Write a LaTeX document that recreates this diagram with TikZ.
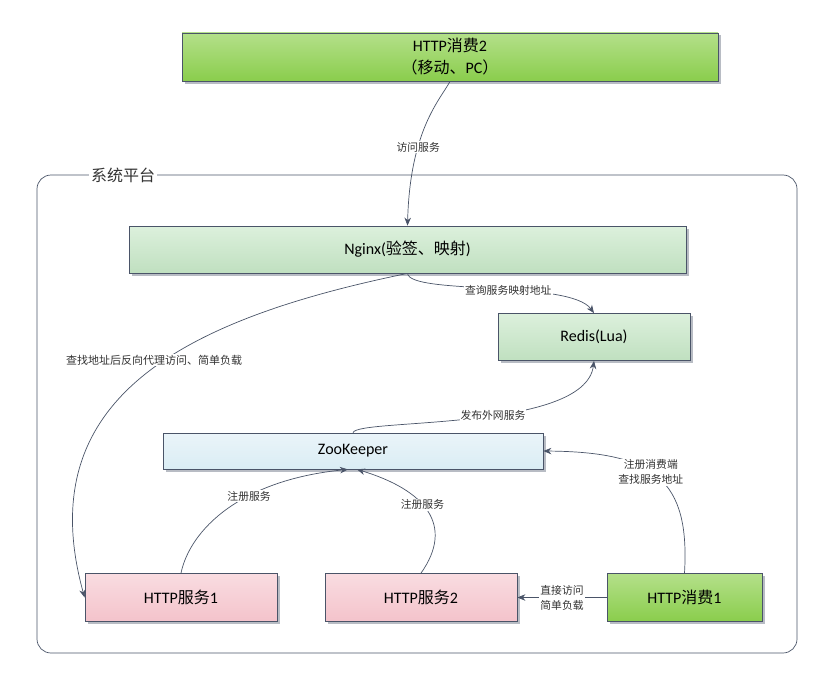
\documentclass[tikz,border=0pt]{standalone}
\usepackage{fontspec}
\setmainfont{Carlito}
\newfontfamily\cjk{Noto Sans CJK SC}
\usetikzlibrary{arrows.meta,shadows}
\definecolor{edgec}{HTML}{4A5468}
\definecolor{shadowc}{HTML}{B8BCC4}
\definecolor{BoxGreenTop}{HTML}{B4E08A}
\definecolor{BoxGreenBot}{HTML}{8ACD4C}
\definecolor{LGreenTop}{HTML}{DCF0DC}
\definecolor{LGreenBot}{HTML}{C0E0C0}
\definecolor{BlueTop}{HTML}{EAF4F9}
\definecolor{BlueBot}{HTML}{DAEDF4}
\definecolor{PinkTop}{HTML}{F9DCE1}
\definecolor{PinkBot}{HTML}{F4C3CB}
\tikzset{
  box/.style={draw=edgec, line width=0.8pt, inner sep=0pt, align=center,
    font=\fontsize{16}{22}\selectfont,
    drop shadow={shadow xshift=2.5pt, shadow yshift=-2.5pt, fill=shadowc, opacity=1}},
  greenbox/.style={box, top color=BoxGreenTop, bottom color=BoxGreenBot},
  lgreenbox/.style={box, top color=LGreenTop, bottom color=LGreenBot},
  bluebox/.style={box, top color=BlueTop, bottom color=BlueBot},
  pinkbox/.style={box, top color=PinkTop, bottom color=PinkBot},
  conn/.style={draw=edgec, line width=0.7pt, -{Stealth[length=8pt,width=6.5pt]}},
  lbl/.style={fill=white, inner sep=1pt, align=center,
    font=\cjk\fontsize{10.8}{15}\selectfont, text=black!80}
}
\begin{document}
\begin{tikzpicture}[x=1pt,y=-1pt]
\useasboundingbox (0,0) rectangle (816,677);
% container
\draw[edgec, line width=0.7pt, rounded corners=14pt] (37,175) rectangle (797,653);
\node[fill=white, inner sep=2pt, font=\cjk\fontsize{16}{18}\selectfont, text=black!80] (plat) at (123,175) {系统平台};
% boxes
\node[greenbox, minimum width=536pt, minimum height=48pt] (c2) at (450,57)
  {HTTP{\cjk 消费}2\\{\cjk （移动、}PC{\cjk ）}};
\node[lgreenbox, minimum width=557pt, minimum height=47pt] (ng) at (407.5,249.5)
  {Nginx({\cjk 验签、映射})};
\node[lgreenbox, minimum width=192pt, minimum height=47pt] (rd) at (594,337)
  {Redis(Lua)};
\node[bluebox, minimum width=380pt, minimum height=36pt] (zk) at (353,451)
  {ZooKeeper};
\node[pinkbox, minimum width=192pt, minimum height=48pt] (s1) at (181,597.5)
  {HTTP{\cjk 服务}1};
\node[pinkbox, minimum width=192pt, minimum height=48pt] (s2) at (421,597.5)
  {HTTP{\cjk 服务}2};
\node[greenbox, minimum width=155pt, minimum height=48pt] (c1) at (684.5,597.5)
  {HTTP{\cjk 消费}1};
% connectors
\draw[conn] (c2.south) .. controls (440,100) and (410,130) .. node[lbl, pos=0.65] {访问服务} (ng.north);
\draw[conn] (ng.south) .. controls (410,295) and (570,280) .. node[lbl, pos=0.56] {查询服务映射地址} (rd.north);
\draw[conn] (ng.south) .. controls (180,320) and (30,400) .. (s1.west);
\node[lbl, font=\cjk\fontsize{11}{15}\selectfont] (l3) at (154,360) {查找地址后反向代理访问、简单负载};
\draw[conn] (zk.north) .. controls (358,418) and (585,432) .. node[lbl, pos=0.56] {发布外网服务} (rd.south);
\draw[conn] (s1.north) .. controls (190,530) and (240,480) .. node[lbl, pos=0.62] {注册服务} ([xshift=-5pt]zk.south);
\draw[conn] (s2.north) .. controls (455,525) and (425,490) .. node[lbl, pos=0.56] {注册服务} ([xshift=4pt]zk.south);
\draw[conn] (c1.north) .. controls (690,480) and (655,452) .. node[lbl, pos=0.55] {注册消费端\\查找服务地址} (zk.east);
\draw[conn] (c1.west) -- node[lbl] {直接访问\\简单负载} (s2.east);
\end{tikzpicture}
\end{document}
